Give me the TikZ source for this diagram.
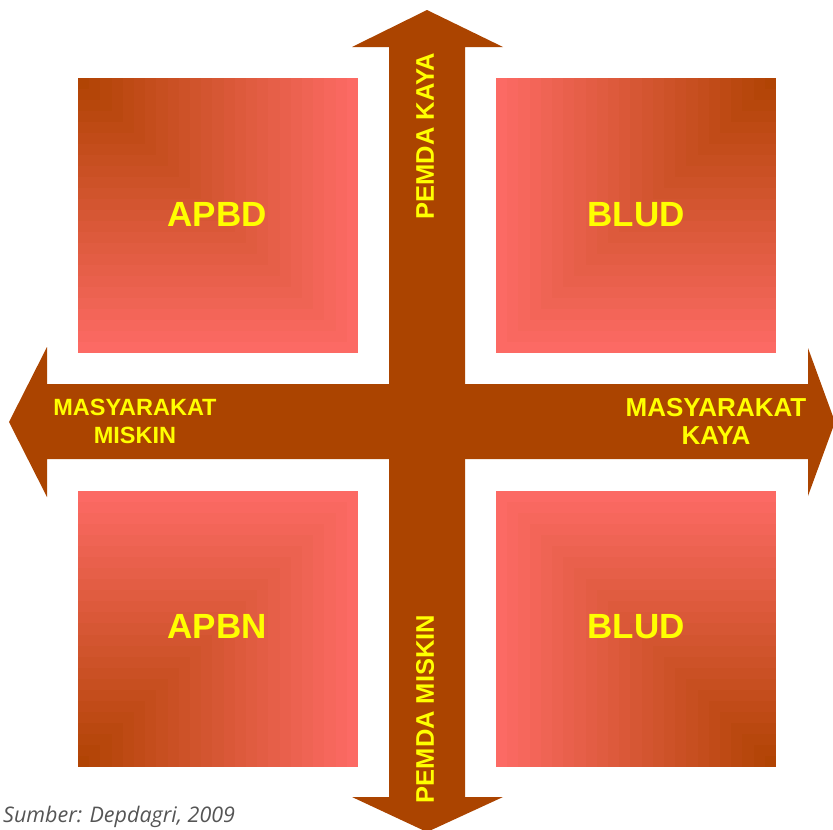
\documentclass[tikz,border=0pt]{standalone}
\usepackage{fontspec}
\setmainfont{Liberation Sans}
\newfontfamily\sourcefont{Open Sans}
\usetikzlibrary{positioning}
\definecolor{crossbrown}{RGB}{171,68,0}
\definecolor{quaddark}{RGB}{174,66,0}
\definecolor{quadlight}{RGB}{252,106,100}
\definecolor{labelyellow}{RGB}{255,255,0}
\definecolor{sourcegray}{RGB}{85,85,85}
\newcommand{\quadgrad}[4]{%
  \foreach \k in {0,...,24}{%
    \pgfmathsetmacro{\fr}{1-\k/25}%
    \pgfmathsetmacro{\mixp}{4*\k}%
    \fill[quaddark!\mixp!quadlight] (#1,#2) rectangle ++(#3*\fr,#4*\fr);
  }}

\begin{document}
\begin{tikzpicture}[x=1pt,y=-1pt,
  quadlabel/.style={text=labelyellow,anchor=base,font=\fontsize{35}{35}\selectfont\bfseries},
  axislabel/.style={text=labelyellow,align=center,inner sep=0pt,font=\fontsize{23.5}{28}\selectfont\bfseries},
  pemdalabel/.style={text=labelyellow,rotate=90,inner sep=0pt,font=\fontsize{25.5}{25.5}\selectfont\bfseries}
]
\useasboundingbox (0,0) rectangle (833,830);

\quadgrad{78}{78}{280}{275}
\quadgrad{776}{78}{-280}{275}
\quadgrad{78}{767}{280}{-276}
\quadgrad{776}{767}{-280}{-276}

\fill[crossbrown] (389,47) -- (352,47) -- (427,10) -- (503,47) -- (465,47)
  -- (465,797) -- (503,797) -- (427,832) -- (352,797) -- (389,797) -- cycle;
\fill[crossbrown] (47,384) -- (47,347) -- (9,422) -- (47,497) -- (47,459)
  -- (808,459) -- (808,496) -- (835,422) -- (808,348) -- (808,384) -- cycle;

\node[quadlabel] (apbd) at (217,226) {APBD};
\node[quadlabel] (bludtop) at (636,226) {BLUD};
\node[quadlabel] (apbn) at (217,638) {APBN};
\node[quadlabel] (bludbot) at (636,638) {BLUD};

\node[axislabel] (mmiskin) at (135,421) {MASYARAKAT\\MISKIN};
\node[axislabel,font=\fontsize{26}{28}\selectfont\bfseries] (mkaya) at (716,421) {MASYARAKAT\\KAYA};
\node[pemdalabel] (pkaya) at (425,136) {PEMDA KAYA};
\node[pemdalabel] (pmiskin) at (425,709) {PEMDA MISKIN};

\node[anchor=base west,inner sep=0pt,text=sourcegray,font=\sourcefont\itshape\fontsize{21.5}{21.5}\selectfont] (source) at (3,822) {Sumber: Depdagri, 2009};
\end{tikzpicture}
\end{document}
